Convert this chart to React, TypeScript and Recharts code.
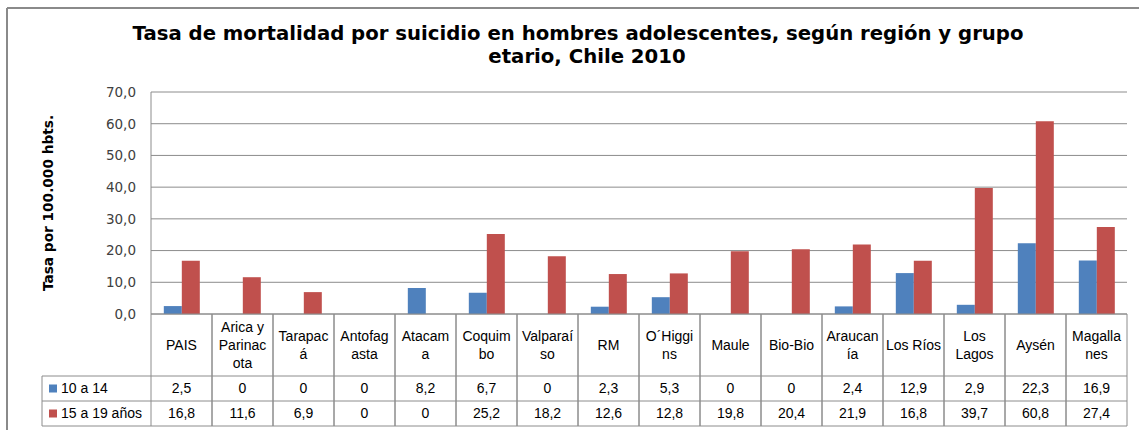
import { BarChart, Bar, XAxis, YAxis, CartesianGrid } from "recharts";

// data (Excel chart with data table)
const categories = [
  "PAIS",
  "Arica y\nParinac\nota",
  "Tarapac\ná",
  "Antofag\nasta",
  "Atacam\na",
  "Coquim\nbo",
  "Valparaí\nso",
  "RM",
  "O´Higgi\nns",
  "Maule",
  "Bio-Bio",
  "Araucan\nía",
  "Los Ríos",
  "Los\nLagos",
  "Aysén",
  "Magalla\nnes",
];
const edad10a14 = [2.5, 0, 0, 0, 8.2, 6.7, 0, 2.3, 5.3, 0, 0, 2.4, 12.9, 2.9, 22.3, 16.9];
const edad15a19 = [16.8, 11.6, 6.9, 0, 0, 25.2, 18.2, 12.6, 12.8, 19.8, 20.4, 21.9, 16.8, 39.7, 60.8, 27.4];
const seriesNames = ["10 a 14", "15 a 19 años"];
const yTicks = [0, 10, 20, 30, 40, 50, 60, 70];
const titleLines = [
  "Tasa de mortalidad por suicidio en hombres adolescentes, según región y grupo",
  "etario, Chile 2010",
];
const yLabel = "Tasa por 100.000 hbts.";

const BLUE = "#4F81BD";
const RED = "#C0504D";
const GRID = "#8C8C8C";
const TABLE_FONT = "'Liberation Sans', Arial, sans-serif";
const VERDANA = "'DejaVu Sans', Verdana, sans-serif";

const data = categories.map((c, i) => ({ name: c, a: edad10a14[i], b: edad15a19[i] }));

const fmtTick = (v: number) => v.toFixed(1).replace(".", ",");
const fmtCell = (v: number) => (v === 0 ? "0" : v.toFixed(1).replace(".", ","));

const CAT_H = 62;
const ROW_H = 25;

function TableTick(props: any) {
  const { x, y, payload } = props;
  const half = payload.offset || 30.5;
  const i = payload.index;
  const lines = String(payload.value).split("\n");
  const left = x - half;
  const right = x + half;
  const mid = y + CAT_H / 2;
  const lh = 18;
  return (
    <g>
      <line x1={left} y1={y} x2={left} y2={y + CAT_H + 2 * ROW_H} stroke={GRID} />
      <line x1={right} y1={y} x2={right} y2={y + CAT_H + 2 * ROW_H} stroke={GRID} />
      <line x1={left} y1={y + CAT_H} x2={right} y2={y + CAT_H} stroke={GRID} />
      <line x1={left} y1={y + CAT_H + ROW_H} x2={right} y2={y + CAT_H + ROW_H} stroke={GRID} />
      <line x1={left} y1={y + CAT_H + 2 * ROW_H} x2={right} y2={y + CAT_H + 2 * ROW_H} stroke={GRID} />
      {lines.map((l, k) => (
        <text
          key={k}
          x={x}
          y={mid + (k - (lines.length - 1) / 2) * lh}
          dy="0.35em"
          textAnchor="middle"
          fontSize={14}
          fontFamily={TABLE_FONT}
          fill="#000"
        >
          {l}
        </text>
      ))}
      <text x={x} y={y + CAT_H + ROW_H / 2} dy="0.35em" textAnchor="middle" fontSize={14} fontFamily={TABLE_FONT} fill="#000">
        {fmtCell(edad10a14[i])}
      </text>
      <text x={x} y={y + CAT_H + ROW_H * 1.5} dy="0.35em" textAnchor="middle" fontSize={14} fontFamily={TABLE_FONT} fill="#000">
        {fmtCell(edad15a19[i])}
      </text>
    </g>
  );
}

export default function App() {
  const rowTop = 314 + CAT_H;
  return (
    <div style={{ position: "absolute", left: 0, top: 0, width: 1139, height: 430, background: "#fff" }}>
      <BarChart
        width={1139}
        height={430}
        data={data}
        margin={{ top: 92, right: 12, left: 91, bottom: 4 }}
        barCategoryGap="21%"
        barGap={0}
      >
        <CartesianGrid vertical={false} stroke={GRID} />
        <XAxis
          dataKey="name"
          height={112}
          interval={0}
          tickSize={0}
          tickMargin={0}
          tickLine={false}
          axisLine={{ stroke: GRID }}
          tick={<TableTick />}
        />
        <YAxis
          width={60}
          domain={[0, 70]}
          ticks={yTicks}
          tickFormatter={fmtTick}
          tickLine={false}
          tickSize={0}
          tickMargin={15}
          axisLine={{ stroke: GRID }}
          tick={{ fontSize: 13.5, fill: "#404040", fontFamily: VERDANA }}
        />
        <Bar dataKey="a" name={seriesNames[0]} fill={BLUE} isAnimationActive={false} />
        <Bar dataKey="b" name={seriesNames[1]} fill={RED} isAnimationActive={false} />
      </BarChart>

      {/* frame, title, axis title and legend keys of the data table */}
      <svg width={1139} height={430} style={{ position: "absolute", left: 0, top: 0, pointerEvents: "none" }}>
        <line x1={7} y1={8} x2={1139} y2={8} stroke="#8A8A8A" strokeWidth={2} />
        <line x1={7} y1={8} x2={7} y2={430} stroke="#8A8A8A" strokeWidth={2} />
        <text x={578} y={40} textAnchor="middle" fontSize={19.7} fontWeight="bold" fontFamily={VERDANA} fill="#000">
          {titleLines[0]}
        </text>
        <text x={587} y={63} textAnchor="middle" fontSize={19.7} fontWeight="bold" fontFamily={VERDANA} fill="#000">
          {titleLines[1]}
        </text>
        <text
          x={48}
          y={203}
          dy="0.35em"
          transform="rotate(-90 48 203)"
          textAnchor="middle"
          fontSize={13.7}
          fontWeight="bold"
          fontFamily={VERDANA}
          fill="#000"
        >
          {yLabel}
        </text>
        <line x1={42} y1={rowTop} x2={151} y2={rowTop} stroke={GRID} />
        <line x1={42} y1={rowTop + ROW_H} x2={151} y2={rowTop + ROW_H} stroke={GRID} />
        <line x1={42} y1={rowTop + 2 * ROW_H} x2={151} y2={rowTop + 2 * ROW_H} stroke={GRID} />
        <line x1={42} y1={rowTop} x2={42} y2={rowTop + 2 * ROW_H} stroke={GRID} />
        {seriesNames.map((s, k) => (
          <g key={s}>
            <rect x={49} y={rowTop + k * ROW_H + ROW_H / 2 - 4} width={8} height={8} fill={k === 0 ? BLUE : RED} />
            <text x={61} y={rowTop + k * ROW_H + ROW_H / 2} dy="0.35em" fontSize={14} fontFamily={TABLE_FONT} fill="#000">
              {s}
            </text>
          </g>
        ))}
      </svg>
    </div>
  );
}
